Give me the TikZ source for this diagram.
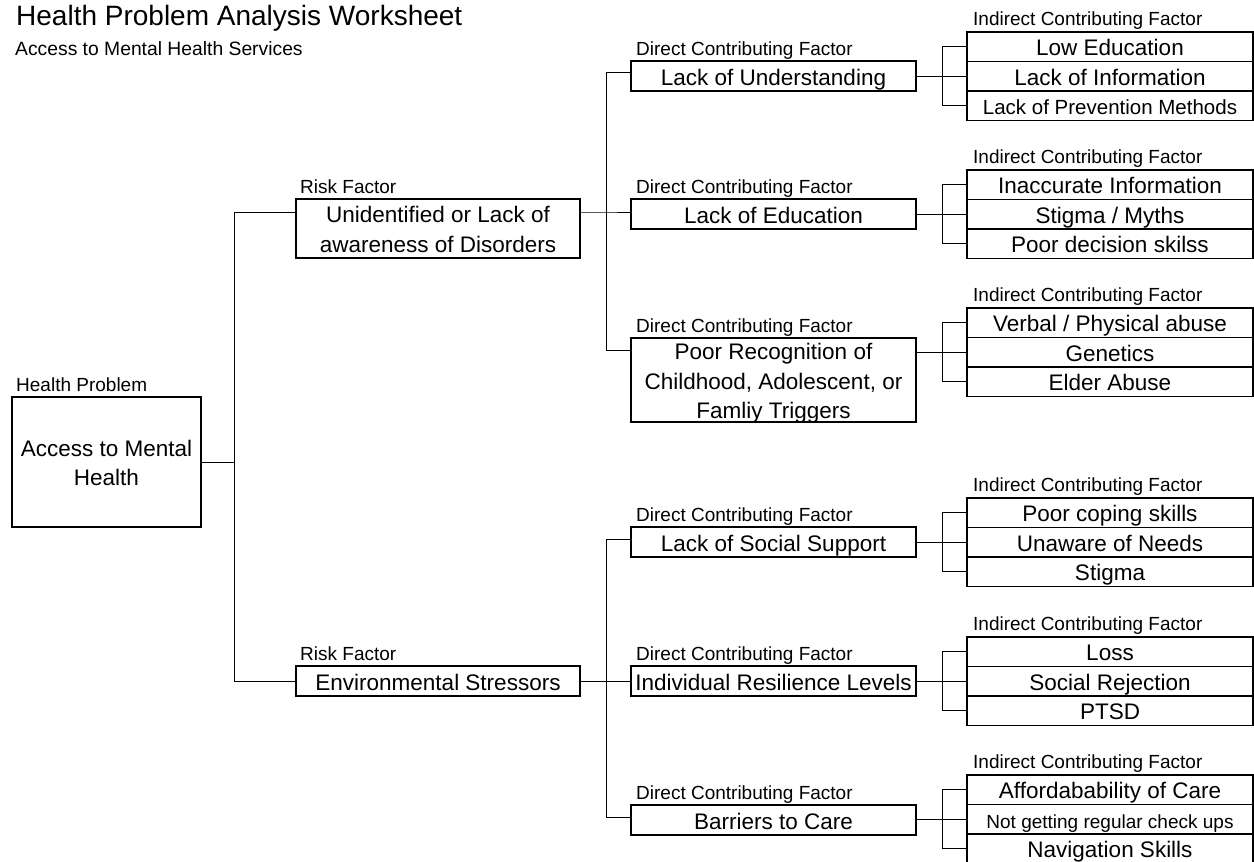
\documentclass[tikz,border=0pt]{standalone}
\usepackage{fontspec}
\setmainfont{Liberation Sans}
\newcommand{\bxfont}{\fontsize{22.5}{29.5}\selectfont}
\newcommand{\lbfont}{\fontsize{19}{22}\selectfont}
\tikzset{
  box/.style={draw, line width=1.8pt, inner sep=0pt, minimum width=284pt, align=center, font=\bxfont, text height=18pt, text depth=0pt},
  twolines/.style={text height=47.5pt},
  threelines/.style={text height=77pt},
  rowbox/.style={draw, line width=1.8pt, inner sep=0pt, minimum width=286pt, minimum height=29.5pt, font=\bxfont, text height=18pt, text depth=0pt},
  lbl/.style={anchor=base west, inner sep=0pt, font=\lbfont},
  link/.style={line width=1pt},
}
\begin{document}
\begin{tikzpicture}[x=1pt,y=-1pt]
\useasboundingbox (0,0) rectangle (1254,862);
\clip (0,0) rectangle (1254,862);
% titles
\node[anchor=base west, inner sep=0pt, font=\fontsize{28}{32}\selectfont] (title) at (16,25) {Health Problem Analysis Worksheet};
\node[anchor=base west, inner sep=0pt, font=\fontsize{19.3}{22}\selectfont] (sub) at (15,55) {Access to Mental Health Services};
% health problem
\node[box, twolines, minimum width=189pt, minimum height=130pt] (hp) at (106.5,462) {Access to Mental\\Health};
\node[lbl] (hpl) at (16,391) {Health Problem};
% risk factors
\node[box, twolines, minimum height=59pt] (r1) at (438,228.5) {Unidentified or Lack of\\awareness of Disorders};
\node[lbl] (r1l) at (300,193) {Risk Factor};
\node[box, minimum height=30pt] (r2) at (438,681) {Environmental Stressors};
\node[lbl] (r2l) at (300,660) {Risk Factor};
% direct contributing factors
\node[box, minimum width=285pt, minimum height=30pt] (d1) at (773.5,76) {Lack of Understanding};
\node[lbl] (d1l) at (636,55) {Direct Contributing Factor};
\node[box, minimum width=285pt, minimum height=30pt] (d2) at (773.5,214) {Lack of Education};
\node[lbl] (d2l) at (636,193) {Direct Contributing Factor};
\node[box, threelines, minimum width=285pt, minimum height=84pt] (d3) at (773.5,380) {Poor Recognition of\\Childhood, Adolescent, or\\Famliy Triggers};
\node[lbl] (d3l) at (636,332) {Direct Contributing Factor};
\node[box, minimum width=285pt, minimum height=30pt] (d4) at (773.5,542) {Lack of Social Support};
\node[lbl] (d4l) at (636,521) {Direct Contributing Factor};
\node[box, minimum width=285pt, minimum height=30pt] (d5) at (773.5,681) {Individual Resilience Levels};
\node[lbl] (d5l) at (636,660) {Direct Contributing Factor};
\node[box, minimum width=285pt, minimum height=30pt] (d6) at (773.5,820) {Barriers to Care};
\node[lbl] (d6l) at (636,799) {Direct Contributing Factor};
% indirect contributing factors
\node[lbl] (g1l) at (973,25) {Indirect Contributing Factor};
\node[rowbox] (g1a) at (1110,46.75) {Low Education};
\node[rowbox] (g1b) at (1110,76.25) {Lack of Information};
\node[rowbox, font=\fontsize{20.5}{24}\selectfont] (g1c) at (1110,105.75) {Lack of Prevention Methods};
\node[lbl] (g2l) at (973,163) {Indirect Contributing Factor};
\node[rowbox] (g2a) at (1110,184.75) {Inaccurate Information};
\node[rowbox] (g2b) at (1110,214.25) {Stigma / Myths};
\node[rowbox] (g2c) at (1110,243.75) {Poor decision skilss};
\node[lbl] (g3l) at (973,301) {Indirect Contributing Factor};
\node[rowbox] (g3a) at (1110,322.75) {Verbal / Physical abuse};
\node[rowbox] (g3b) at (1110,352.25) {Genetics};
\node[rowbox] (g3c) at (1110,381.75) {Elder Abuse};
\node[lbl] (g4l) at (973,491) {Indirect Contributing Factor};
\node[rowbox] (g4a) at (1110,512.75) {Poor coping skills};
\node[rowbox] (g4b) at (1110,542.25) {Unaware of Needs};
\node[rowbox] (g4c) at (1110,571.75) {Stigma};
\node[lbl] (g5l) at (973,630) {Indirect Contributing Factor};
\node[rowbox] (g5a) at (1110,651.75) {Loss};
\node[rowbox] (g5b) at (1110,681.25) {Social Rejection};
\node[rowbox] (g5c) at (1110,710.75) {PTSD};
\node[lbl] (g6l) at (973,768) {Indirect Contributing Factor};
\node[rowbox] (g6a) at (1110,789.75) {Affordabability of Care};
\node[rowbox, font=\fontsize{19}{22}\selectfont] (g6b) at (1110,819.25) {Not getting regular check ups};
\node[rowbox] (g6c) at (1110,848.75) {Navigation Skills};
% connectors: level 1
\coordinate (j1) at (234,212);
\coordinate (j2) at (234,681);
\draw[link] (hp.east) -- (hp.east -| j1);
\draw[link] (j1 -| r1.west) -- (j1) -- (j2) -- (j2 -| r2.west);
% connectors: level 2
\coordinate (k1) at (606,72);
\coordinate (k2) at (606,212);
\coordinate (k3) at (606,350);
\coordinate (k4) at (606,539);
\coordinate (k6) at (606,817);
\draw[link] (k1 -| d1.west) -- (k1) -- (k3) -- (k3 -| d3.west);
\draw[link] (r1.east |- k2) -- (k2) -- (k2 -| d2.west);
\draw[link] (k4 -| d4.west) -- (k4) -- (k6) -- (k6 -| d6.west);
\draw[link] (r2.east) -- (d5.west);
% connectors: level 3
\foreach \d/\g in {d1/g1, d2/g2, d3/g3, d4/g4, d5/g5, d6/g6}{
  \draw[link] (\d.east |- \g b.west) -- (\g b.west);
  \draw[link] (\g a.west) -- ++(-24,0) |- (\g c.west);
}
\end{tikzpicture}
\end{document}
